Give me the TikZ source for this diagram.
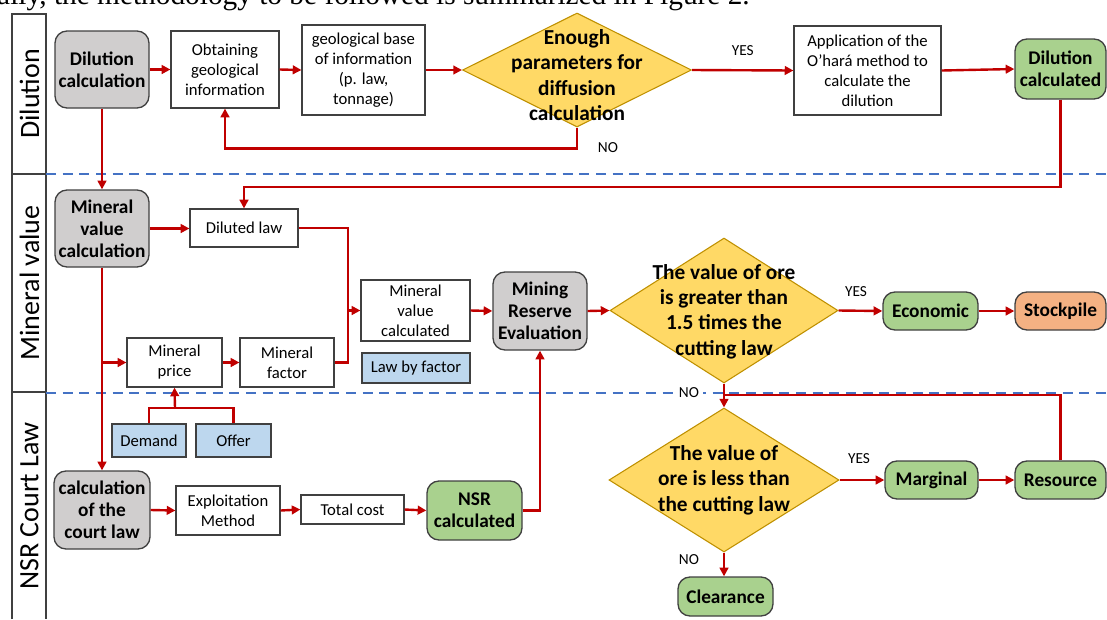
\documentclass[tikz,border=0pt]{standalone}
\usepackage{fontspec}
\setmainfont{Carlito}
\newfontfamily\serifface{Liberation Serif}
\usetikzlibrary{arrows.meta,shapes.geometric}
\definecolor{rd}{HTML}{C00000}
\definecolor{dashblue}{HTML}{4472C4}
\definecolor{grayfill}{HTML}{D0CECE}
\definecolor{greenfill}{HTML}{A9D18E}
\definecolor{orangefill}{HTML}{F4B183}
\definecolor{bluefill}{HTML}{BDD7EE}
\definecolor{diafill}{HTML}{FFD966}
\definecolor{diaborder}{HTML}{BF9000}
\definecolor{edge}{HTML}{404040}
% \mkbox{style}{name}{x1}{y1}{x2}{y2}{text}
\newcommand\mkbox[7]{\node[#1, minimum width={(#5-#3)*0.75pt}, minimum height={(#6-#4)*0.75pt}] (#2) at ({(#3+#5)/2},{(#4+#6)/2}) {#7};}
\begin{document}
\begin{tikzpicture}[x=0.75pt,y=-0.75pt,
  bx/.style={draw=edge, line width=0.9pt, fill=white, inner sep=0pt, align=center, font=\fontsize{12.5}{15}\selectfont},
  rbx/.style={bx, rounded corners=9pt, line width=1pt, font=\bfseries\fontsize{14.5}{16.5}\selectfont},
  grbox/.style={rbx, fill=grayfill},
  gnbox/.style={rbx, fill=greenfill},
  orbox/.style={rbx, fill=orangefill},
  blbox/.style={bx, fill=bluefill},
  dia/.style={diamond, draw=diaborder, fill=diafill, line width=0.8pt, inner sep=0pt},
  dtext/.style={align=center, inner sep=0pt, font=\bfseries\fontsize{16}{19}\selectfont},
  arr/.style={draw=rd, line width=1.8pt, -{Triangle[length=6.5pt,width=6.5pt]}},
  ln/.style={draw=rd, line width=1.8pt},
  lbl/.style={font=\fontsize{11.5}{13}\selectfont, inner sep=1pt},
  lane/.style={rotate=90, font=\fontsize{21}{24}\selectfont, inner sep=0pt},
  frame/.style={draw=edge, line width=1pt},
  dsh/.style={draw=dashblue, line width=2pt, dash pattern=on 7.5pt off 5pt}
]
\useasboundingbox (0,0) rectangle (1107,619);
\clip (0,0) rectangle (1107,619);

% cut-off caption line at the top
\node[anchor=base east, inner sep=0pt, font=\serifface\fontsize{22}{24}\selectfont] (cap) at (750,4) {ally, the methodology to be followed is summarized in Figure 2.};

% lanes
\draw[frame] (12,619) -- (12,14) -- (46,14) -- (46,619);
\draw[frame] (12,174) -- (46,174);
\draw[frame] (12,392) -- (46,392);
\node[lane] (l1) at (29.5,94) {Dilution};
\node[lane] (l2) at (29.5,283) {Mineral value};
\node[lane] (l3) at (29.5,506) {NSR Court Law};

\draw[dsh] (46,174) -- (1107,174);
\draw[dsh] (46,393) -- (1107,393);

% Dilution lane
\mkbox{grbox}{dc}{55}{31}{149}{108}{Dilution\\calculation}
\mkbox{bx}{og}{171}{31}{279}{108}{Obtaining\\geological\\information}
\mkbox{bx}{gb}{302}{25}{425}{115}{geological base\\of information\\(p. law,\\tonnage)}
\node[dia, minimum width=171.75pt, minimum height=85.5pt] (d1) at (577,70) {};
\node[dtext] (d1t) at (577,75) {Enough\\parameters for\\diffusion\\calculation};
\mkbox{bx}{app}{794}{26}{941}{115}{Application of the\\O'hará method to\\calculate the\\dilution}
\mkbox{gnbox}{dcd}{1015}{39}{1106}{99}{Dilution\\calculated}

% Mineral value lane
\mkbox{grbox}{mvc}{55}{190}{149}{267}{Mineral\\value\\calculation}
\mkbox{bx}{dl}{190}{209}{298}{247}{Diluted law}
\mkbox{bx}{mvcd}{361}{280}{470}{341}{Mineral\\value\\calculated}
\mkbox{blbox}{lbf}{362}{353}{470}{383}{Law by factor}
\mkbox{bx}{mp}{127}{338}{222}{387}{Mineral\\price}
\mkbox{bx}{mf}{240}{338}{334}{387}{Mineral\\factor}
\mkbox{grbox}{mre}{493}{272}{587}{350}{Mining\\Reserve\\Evaluation}
\node[dia, minimum width=171pt, minimum height=108.75pt] (d2) at (724,310.5) {};
\node[dtext] (d2t) at (724,311.5) {The value of ore\\is greater than\\1.5 times the\\cutting law};
\mkbox{gnbox}{eco}{883}{292}{978}{330}{Economic}
\mkbox{orbox}{stk}{1015}{292}{1106}{330}{Stockpile}

% NSR lane
\mkbox{blbox}{dem}{112}{424}{186}{457}{Demand}
\mkbox{blbox}{off}{196}{424}{271}{457}{Offer}
\mkbox{grbox}{cl}{54}{471}{150}{549}{calculation\\of the\\court law}
\mkbox{bx}{ex}{176}{486}{280}{535}{Exploitation\\Method}
\mkbox{bx}{tc}{301}{495}{404}{524}{Total cost}
\mkbox{gnbox}{nsr}{427}{481}{522}{540}{NSR\\calculated}
\node[dia, minimum width=172.5pt, minimum height=108pt] (d3) at (724,480) {};
\node[dtext] (d3t) at (724,480) {The value of\\ore is less than\\the cutting law};
\mkbox{gnbox}{marg}{885}{461}{978}{499}{Marginal}
\mkbox{gnbox}{res}{1015}{461}{1106}{499}{Resource}
\mkbox{gnbox}{clr}{678}{577}{773}{616}{Clearance}

% coordinates
\coordinate (c1) at (244,187);
\coordinate (j1) at (348,310.5);
\coordinate (j2) at (175,408);
\coordinate (j3) at (724,395);

% connectors: dilution lane
\draw[arr] (dc.east) -- (og.west);
\draw[arr] (og.east) -- (gb.west);
\draw[arr] (gb.east) -- (d1.west);
\draw[arr] (d1.east) -- node[lbl, above=9pt] (yes1) {YES} (app.west);
\draw[arr] (app.east) -- (dcd.west);
\draw[arr] (d1.south) -- ++(0,21) -| (og.south);
\node[lbl] (no1) at (608,148) {NO};
\draw[arr] (dc.south) -- (mvc.north);
\draw[arr] (dcd.south) |- (c1) -- (dl.north);

% connectors: mineral value lane
\draw[arr] (mvc.east) -- (mvc.east -| dl.west);
\draw[ln] (dl.east) -| (j1);
\draw[arr] (j1) -- (mvcd.west);
\draw[ln] (mf.east) -| (j1);
\draw[arr] (mvc.south) -- (mvc.south |- cl.north);
\draw[arr] (mvc.south |- mp.west) -- (mp.west);
\draw[arr] (mp.east) -- (mf.west);
\draw[ln] (dem.north) |- (j2);
\draw[ln] (off.north) |- (j2);
\draw[arr] (j2) -- (mp.south);
\draw[arr] (mvcd.east) -- (mre.west);
\draw[arr] (mre.east) -- (d2.west);
\draw[arr] (d2.east) -- (eco.west);
\node[lbl] (yes2) at (856,292) {YES};
\draw[arr] (eco.east) -- (stk.west);

% connectors: NSR lane
\draw[arr] (cl.east) -- (ex.west);
\draw[arr] (ex.east) -- (tc.west);
\draw[arr] (tc.east) -- (nsr.west);
\draw[arr] (nsr.east) -| (mre.south);
\draw[arr] (d2.south) -- (d3.north);
\node[lbl, fill=white, inner xsep=3pt] (no2) at (689,393) {NO};
\draw[ln] (res.north) |- (j3);
\draw[arr] (d3.east) -- (marg.west);
\node[lbl] (yes3) at (859,459) {YES};
\draw[arr] (marg.east) -- (res.west);
\draw[arr] (d3.south) -- (d3.south |- clr.north);
\node[lbl] (no3) at (689,560) {NO};
\end{tikzpicture}
\end{document}
